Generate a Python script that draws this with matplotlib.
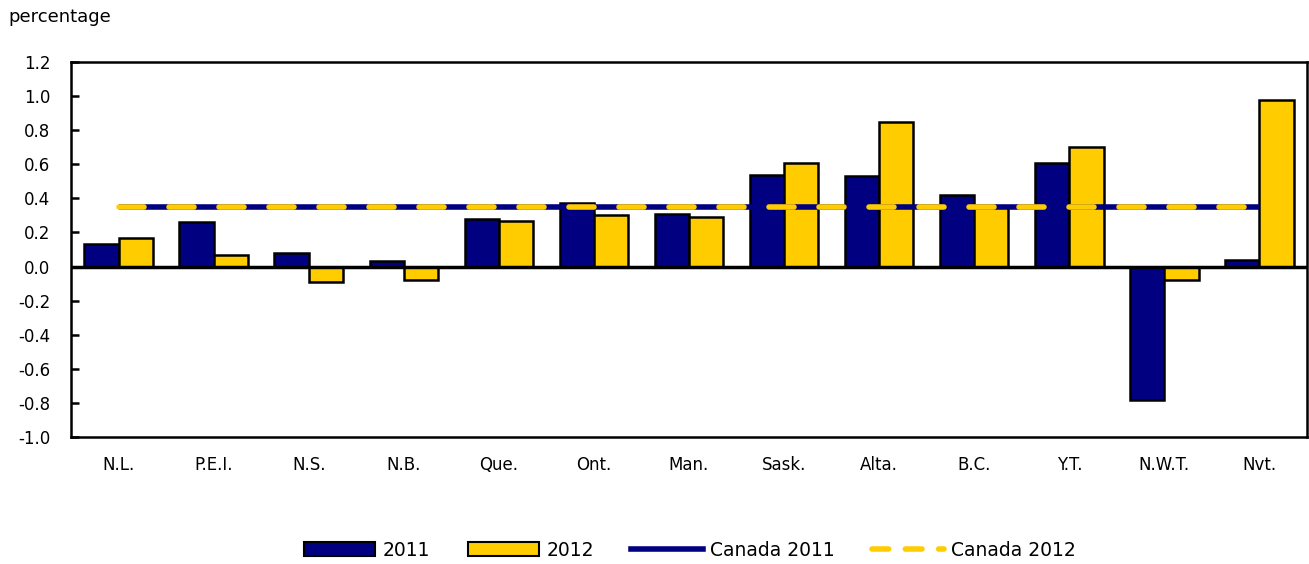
import numpy as np
import matplotlib
matplotlib.use("Agg")
import matplotlib.pyplot as plt
from matplotlib.patches import Patch
from matplotlib.lines import Line2D

regions = ["N.L.", "P.E.I.", "N.S.", "N.B.", "Que.", "Ont.", "Man.",
           "Sask.", "Alta.", "B.C.", "Y.T.", "N.W.T.", "Nvt."]
val_2011 = [0.13, 0.26, 0.08, 0.03, 0.28, 0.37, 0.31, 0.54, 0.53, 0.42, 0.61, -0.78, 0.04]
val_2012 = [0.17, 0.07, -0.09, -0.08, 0.27, 0.30, 0.29, 0.61, 0.85, 0.35, 0.70, -0.08, 0.98]
canada_2011 = 0.35
canada_2012 = 0.35

navy = "#000080"
gold = "#FFCC00"

plt.rcParams['font.family'] = ['Verdana', 'DejaVu Sans']
plt.rcParams['font.size'] = 12

fig = plt.figure(figsize=(13.09, 5.64), dpi=100)
ax = fig.add_axes([71/1309, 1-437/564, (1307-71)/1309, (437-62)/564])

x = np.arange(len(regions))
w = 0.36
ax.bar(x - w/2, val_2011, w, color=navy, edgecolor="black", linewidth=1.8, zorder=2)
ax.bar(x + w/2, val_2012, w, color=gold, edgecolor="black", linewidth=1.8, zorder=2)

ax.axhline(0, color="black", linewidth=2.5, zorder=3)
ax.plot([x[0], x[-1]], [canada_2011]*2, color=navy, linewidth=4, zorder=4, solid_capstyle="butt")
ax.plot([x[0], x[-1]], [canada_2012]*2, color=gold, linewidth=4, zorder=5,
        dashes=(4.5, 4.5), dash_capstyle="round")

ax.set_xlim(-0.5, len(regions) - 0.5)
ax.set_ylim(-1.0, 1.2)
yt = np.arange(-1.0, 1.21, 0.2)
ax.set_yticks(yt)
ax.set_yticklabels([f"{v:.1f}" if abs(v) > 1e-9 else "0.0" for v in yt])
ax.set_xticks(x)
ax.set_xticklabels(regions)
ax.tick_params(axis="x", length=0, pad=14)
ax.tick_params(axis="y", direction="in", length=6, width=1.8, pad=15)
for s in ax.spines.values():
    s.set_linewidth(1.8)

fig.text(8/1309, 1-17/564, "percentage", fontsize=13, va="center", ha="left")

handles = [
    Patch(facecolor=navy, edgecolor="black", linewidth=1.5, label="2011"),
    Patch(facecolor=gold, edgecolor="black", linewidth=1.5, label="2012"),
    Line2D([], [], color=navy, linewidth=4, label="Canada 2011"),
    Line2D([], [], color=gold, linewidth=4, dashes=(3, 3), dash_capstyle="round", label="Canada 2012"),
]
fig.legend(handles=handles, loc="center", bbox_to_anchor=(0.527, 1-550/564), ncol=4,
           frameon=False, handlelength=3.8, handleheight=0.8, columnspacing=2.0, handletextpad=0.4,
           fontsize=13.5)

fig.savefig("out.png", dpi=100)
